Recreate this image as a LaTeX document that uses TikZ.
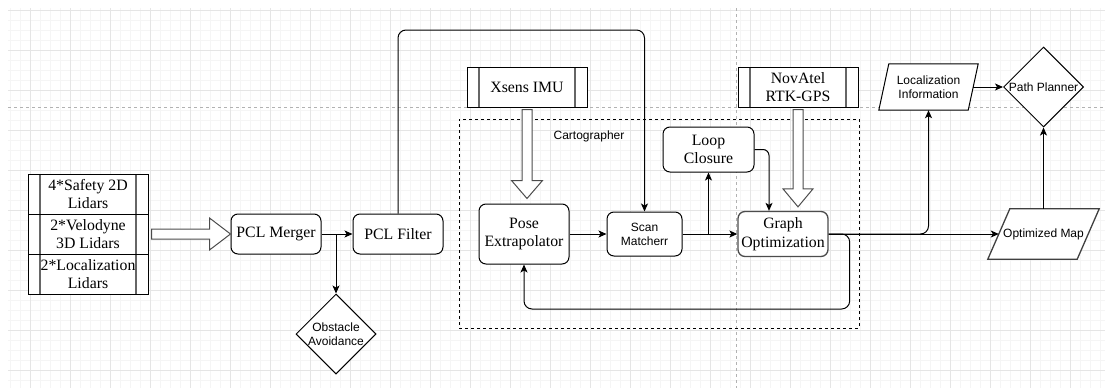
\documentclass[tikz,border=0pt]{standalone}
\usepackage{fontspec}
\setmainfont{Liberation Serif}
\setsansfont{Liberation Sans}
\newfontfamily\lbserif{Liberation Serif}
\newfontfamily\lbsans{Liberation Sans}
\usetikzlibrary{shapes.geometric,arrows.meta,calc}

\begin{document}
\begin{tikzpicture}[x=1pt,y=-1pt,
  rmtext/.style={font=\lbserif\fontsize{15.8}{18.5}\selectfont},
  sftext/.style={font=\lbsans\fontsize{12}{14}\selectfont},
  minorgrid/.style={draw=black!4,line width=1pt},
  majorgrid/.style={draw=black!10,line width=1pt},
  pagebrk/.style={draw=black!30,line width=0.8pt,dash pattern=on 3pt off 3pt},
  rndbox/.style={draw=black,rounded corners=7pt,line width=1pt,fill=white,
    align=center,inner sep=0pt,rmtext},
  proc/.style={draw=black,fill=white,line width=1pt,align=center,inner sep=0pt,
    rmtext,minimum width=120pt,minimum height=40pt,
    path picture={
      \draw[black!60,line width=1.2pt]
        ([xshift=12pt]path picture bounding box.north west) --
        ([xshift=12pt]path picture bounding box.south west);
      \draw[black!60,line width=1.2pt]
        ([xshift=-12pt]path picture bounding box.north east) --
        ([xshift=-12pt]path picture bounding box.south east);}},
  dia/.style={diamond,aspect=1,draw=black,fill=white,line width=1pt,
    minimum width=80pt,minimum height=80pt,inner sep=0pt},
  para/.style={sftext,align=center,inner sep=0pt},
  arr/.style={draw=black,line width=1pt,-{Stealth[length=8pt,width=7pt,inset=2pt]}},
  hollow/.style={draw=black!70,line width=1pt,fill=white,line join=miter},
  cartobox/.style={draw=black,line width=1pt,dash pattern=on 3pt off 3pt}
]
\useasboundingbox (0,0) rectangle (1105,388);

% background grid
\foreach \x in {10,20,...,1100} \draw[minorgrid] (\x,8) -- (\x,388);
\foreach \y in {10,20,...,380} \draw[minorgrid] (8,\y) -- (1105,\y);
\foreach \x in {30,70,...,1070} \draw[majorgrid] (\x,8) -- (\x,388);
\foreach \y in {10,50,...,370} \draw[majorgrid] (8,\y) -- (1105,\y);
\draw[pagebrk] (8,107) -- (1105,107);
\draw[pagebrk] (736,8) -- (736,388);

% cartographer group
\node[cartobox,minimum width=400pt,minimum height=209pt] (carto) at (659,223.5) {};
\node[sftext] (cartolbl) at (589,136) {Cartographer};

% sensors
\node[proc] (lid1) at (88,194) {4*Safety 2D\\Lidars};
\node[proc] (lid2) at (88,234) {2*Velodyne\\3D Lidars};
\node[proc] (lid3) at (88,274) {2*Localization\\Lidars};
\node[proc] (imu) at (527,87) {Xsens IMU};
\node[proc] (gps) at (798,87) {NovAtel\\RTK-GPS};

% processing blocks
\node[rndbox,minimum width=90pt,minimum height=40pt] (merger) at (276,234) {PCL Merger};
\node[rndbox,minimum width=90pt,minimum height=40pt] (filter) at (398,234) {PCL Filter};
\node[dia,label={[sftext,align=center]center:Obstacle\\Avoidance}] (obst) at (336,334) {};
\node[rndbox,minimum width=90pt,minimum height=60pt] (pose) at (524,234) {Pose\\Extrapolator};
\node[rndbox,sftext,minimum width=75pt,minimum height=44pt] (scan) at (644.5,234) {Scan\\Matcherr};
\node[rndbox,draw=black!70,line width=1.3pt,minimum width=90pt,minimum height=45pt] (graph) at (783,234) {Graph\\Optimization};
\node[rndbox,minimum width=91pt,minimum height=45pt] (loop) at (708.5,149.5) {Loop\\Closure};

% outputs
\node[para,minimum width=89pt,minimum height=46pt] (loc) at (928.5,87) {};
\draw[black,line width=1pt,fill=white,line join=miter]
  ($(loc.north west)+(5,0)$) -- ($(loc.north east)+(5,0)$) --
  ($(loc.south east)+(-5,0)$) -- ($(loc.south west)+(-5,0)$) -- cycle;
\node[para] (loctxt) at (loc) {Localization\\Information};
\node[para,minimum width=89pt,minimum height=50pt] (optmap) at (1043.5,234) {};
\draw[black!75,line width=1.3pt,fill=white,line join=miter]
  ($(optmap.north west)+(11,0)$) -- ($(optmap.north east)+(11,0)$) --
  ($(optmap.south east)+(-11,0)$) -- ($(optmap.south west)+(-11,0)$) -- cycle;
\node[para] (optmaptxt) at (optmap) {Optimized Map};
\node[dia,label={[sftext]center:Path Planner}] (pp) at (1043.5,87) {};

% hollow arrows
\coordinate (lidS) at ($(lid2.east)+(3,0)$);
\coordinate (lidT) at (merger.west);
\draw[hollow] ($(lidS)+(0,-5)$) -- ($(lidT)+(-21,-5)$) -- ($(lidT)+(-21,-16)$) --
  (lidT) -- ($(lidT)+(-21,16)$) -- ($(lidT)+(-21,5)$) -- ($(lidS)+(0,5)$) -- cycle;
\coordinate (imuS) at ($(imu.south)+(0,2)$);
\coordinate (imuT) at ($(imu.south |- pose.north)+(0,-5)$);
\draw[hollow] ($(imuS)+(-5,0)$) -- ($(imuT)+(-5,-18)$) -- ($(imuT)+(-15.5,-18)$) --
  (imuT) -- ($(imuT)+(15.5,-18)$) -- ($(imuT)+(5,-18)$) -- ($(imuS)+(5,0)$) -- cycle;
\coordinate (gpsS) at ($(gps.south)+(0,2)$);
\coordinate (gpsT) at ($(gps.south |- graph.north)+(0,-4)$);
\draw[hollow] ($(gpsS)+(-5,0)$) -- ($(gpsT)+(-5,-18)$) -- ($(gpsT)+(-15,-18)$) --
  (gpsT) -- ($(gpsT)+(15,-18)$) -- ($(gpsT)+(5,-18)$) -- ($(gpsS)+(5,0)$) -- cycle;

% connectors
\draw[arr] (merger) -- (filter);
\draw[arr] (merger.east) -| (obst.north);
\draw[arr,rounded corners=8pt] (filter.north) -- (filter.north |- 0,30) -| (scan.north);
\draw[arr] (pose) -- (scan);
\draw[arr] (scan) -- (graph);
\draw[arr] (scan.east) -| (loop.south);
\draw[arr,rounded corners=6pt] (loop.east) -| ([xshift=-14pt]graph.north);
\draw[arr] (graph) -- (optmap);
\draw[arr,rounded corners=8pt] (graph.east) -| (loc.south);
\draw[arr,rounded corners=8pt] (graph.east) -- ++(21,0) -- ++(0,75) -| (pose.south);
\draw[arr] (loc) -- (pp);
\draw[arr] (optmap) -- (pp);
\end{tikzpicture}
\end{document}
